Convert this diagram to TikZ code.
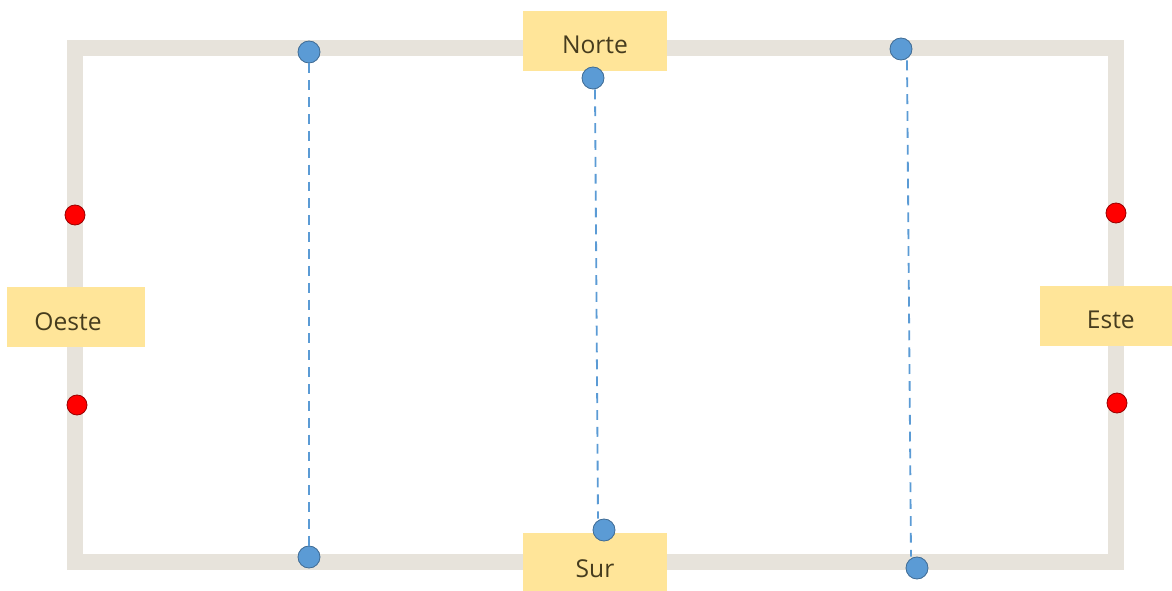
\documentclass[tikz,border=0pt]{standalone}
\usepackage{fontspec}
\setmainfont{Open Sans}
\usepackage{tikz}
\definecolor{framegray}{RGB}{231,227,219}
\definecolor{notey}{RGB}{255,229,153}
\definecolor{notetxt}{RGB}{70,60,30}
\definecolor{dotblue}{RGB}{91,155,213}
\definecolor{dotred}{RGB}{255,0,0}
\tikzset{
  frame/.style={line width=0.4cm, draw=framegray},
  lbl/.style={rectangle, fill=notey, inner sep=0pt, minimum width=3.6cm, minimum height=1.5cm},
  lbltxt/.style={text=notetxt, font=\fontsize{17.5}{20}\selectfont},
  bdot/.style={circle, fill=dotblue, draw=dotblue!70!black, line width=0.6pt, inner sep=0pt, minimum size=0.55cm},
  rdot/.style={circle, fill=dotred, draw=red!60!black, line width=0.6pt, inner sep=0pt, minimum size=0.5cm},
  dline/.style={dotblue, dashed, dash pattern=on 7pt off 5pt, line width=1.3pt}
}
\begin{document}
\begin{tikzpicture}[x=0.025cm, y=-0.025cm]
\useasboundingbox (0,0) rectangle (1172,591);
% marco
\draw[frame] (75,48) rectangle (1116,562);
% etiquetas
\node[lbl, label={[lbltxt, yshift=-0.1cm]center:Norte}] (norte) at (595,41) {};
\node[lbl, minimum width=3.45cm, label={[lbltxt, xshift=-0.2cm, yshift=-0.12cm]center:Oeste}] (oeste) at (76,317) {};
\node[lbl, minimum width=3.3cm, label={[lbltxt, xshift=0.12cm, yshift=-0.1cm]center:Este}] (este) at (1106,316) {};
\node[lbl, minimum height=1.45cm, label={[lbltxt, yshift=-0.18cm]center:Sur}] (sur) at (595,562) {};
% puntos azules
\node[bdot] (n1) at (309,52) {};
\node[bdot] (n2) at (593,78) {};
\node[bdot] (n3) at (901,49) {};
\node[bdot] (s1) at (309,557) {};
\node[bdot] (s2) at (604,530) {};
\node[bdot] (s3) at (917,568) {};
% puntos rojos
\node[rdot] (o1) at (75,215) {};
\node[rdot] (o2) at (77,405) {};
\node[rdot] (e1) at (1116,213) {};
\node[rdot] (e2) at (1117,403) {};
% lineas
\draw[dline] (n1)--(s1);
\draw[dline] ([xshift=0.05cm]n2.south)--([xshift=-0.15cm]s2.north);
\draw[dline] ([xshift=0.15cm]n3.south)--([xshift=-0.15cm]s3.north);
\end{tikzpicture}
\end{document}
